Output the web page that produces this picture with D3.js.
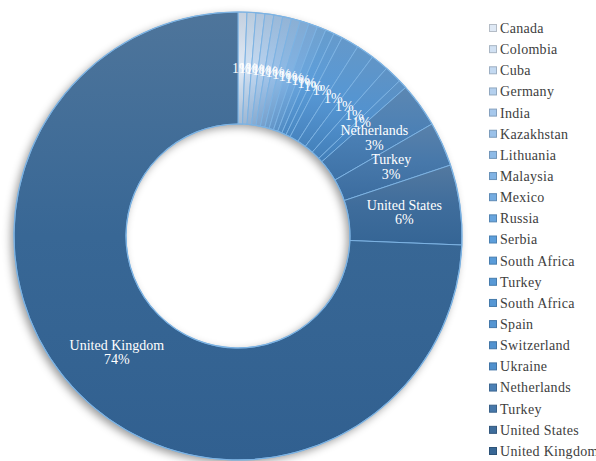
<!DOCTYPE html>
<html>
<head>
<meta charset="utf-8">
<script src="https://cdn.jsdelivr.net/npm/d3@7"></script>
<style>
  html, body { margin: 0; padding: 0; background: #ffffff; }
  svg { display: block; }
</style>
</head>
<body>
<svg id="chart" width="596" height="461"></svg>
<script>
// ---- data ----
const categories = ["Canada", "Colombia", "Cuba", "Germany", "India", "Kazakhstan", "Lithuania",
  "Malaysia", "Mexico", "Russia", "Serbia", "South Africa", "Turkey", "South Africa", "Spain",
  "Switzerland", "Ukraine", "Netherlands", "Turkey", "United States", "United Kingdom"];
const values = [1, 1, 1, 1, 1, 1, 1, 1, 1, 1, 1, 1, 2, 2, 2, 2, 1, 5, 5, 9, 116];
const namedLabels = ["Netherlands", "Turkey", "United States", "United Kingdom"];

// ---- layout ----
const svg = d3.select("#chart");
const cx = 238, cy = 236, R = 224, r = 112;
const n = categories.length;

const colorScale = d3.scaleLinear()
  .domain([0, 4, 10, 16, 17, 18, 19, 20])
  .range(["#dfe9f5", "#a6c8ec", "#5c9edb", "#5090cd", "#4b80b5", "#4778aa", "#3f6d9c", "#386795"])
  .interpolate(d3.interpolateRgb);

const data = categories.map((c, i) => ({ name: c, value: values[i], idx: i }));
const total = d3.sum(values);

const defs = svg.append("defs");
const f = defs.append("filter").attr("id", "shadow")
  .attr("x", "-20%").attr("y", "-20%").attr("width", "140%").attr("height", "140%");
f.append("feDropShadow").attr("dx", -3).attr("dy", 3).attr("stdDeviation", 4)
  .attr("flood-color", "#000").attr("flood-opacity", 0.4);

// per-slice gradients (lighter/greyer at top, deeper at bottom)
data.forEach((d, i) => {
  const c = colorScale(i);
  const gr = defs.append("linearGradient").attr("id", "g" + i)
    .attr("x1", 0).attr("y1", 0).attr("x2", 0).attr("y2", 1);
  gr.append("stop").attr("offset", "0%").attr("stop-color", d3.interpolateRgb(c, "#8296aa")(0.3));
  gr.append("stop").attr("offset", "50%").attr("stop-color", c);
  gr.append("stop").attr("offset", "100%").attr("stop-color", d3.interpolateRgb(c, "#1f5185")(0.3));
});

const pie = d3.pie().value(d => d.value).sort(null);
const arcs = pie(data);
const arc = d3.arc().innerRadius(r).outerRadius(R);
const labelArc = d3.arc().innerRadius((R + r) / 2).outerRadius((R + r) / 2);

const g = svg.append("g").attr("transform", `translate(${cx},${cy})`);

// shadow base
g.append("g").attr("filter", "url(#shadow)")
  .selectAll("path").data(arcs).join("path")
  .attr("d", arc)
  .attr("fill", d => colorScale(d.data.idx));

// slices with borders
g.append("g").selectAll("path").data(arcs).join("path")
  .attr("d", arc)
  .attr("fill", d => `url(#g${d.data.idx})`)
  .attr("stroke", "#7db3e3")
  .attr("stroke-width", 1);

// outer/inner rims
g.append("circle").attr("r", R).attr("fill", "none").attr("stroke", "#7db3e3").attr("stroke-width", 1.2);
g.append("circle").attr("r", r).attr("fill", "none").attr("stroke", "#7db3e3").attr("stroke-width", 1.2);

// data labels
const fmt = v => Math.round(v / total * 100) + "%";
const lab = g.append("g")
  .attr("font-family", "'Liberation Serif', 'Times New Roman', serif")
  .attr("font-size", 14)
  .attr("fill", "#ffffff")
  .attr("text-anchor", "middle");

arcs.forEach(d => {
  const [x, y] = labelArc.centroid(d);
  const named = namedLabels.includes(d.data.name) && d.data.idx >= 17;
  const t = lab.append("text").attr("x", x).attr("y", y);
  if (named) {
    t.append("tspan").attr("x", x).attr("dy", "-0.2em").text(d.data.name);
    t.append("tspan").attr("x", x).attr("dy", "1.05em").text(fmt(d.data.value));
  } else {
    t.attr("dy", "0.35em").text(fmt(d.data.value));
  }
});

// legend
const legend = svg.append("g")
  .attr("font-family", "'Liberation Serif', 'Times New Roman', serif")
  .attr("font-size", 14)
  .attr("fill", "#404040");
const ly = d3.scaleLinear().domain([0, n - 1]).range([28, 451]);
data.forEach((d, i) => {
  const y = ly(i);
  legend.append("rect")
    .attr("x", 489.5).attr("y", y - 3.5).attr("width", 7).attr("height", 7)
    .attr("fill", colorScale(i))
    .attr("stroke", d3.color(colorScale(i)).darker(0.6))
    .attr("stroke-width", 1);
  legend.append("text")
    .attr("x", 500).attr("y", y).attr("dy", "0.35em")
    .attr("letter-spacing", 0.3)
    .text(d.name);
});
</script>
</body>
</html>
